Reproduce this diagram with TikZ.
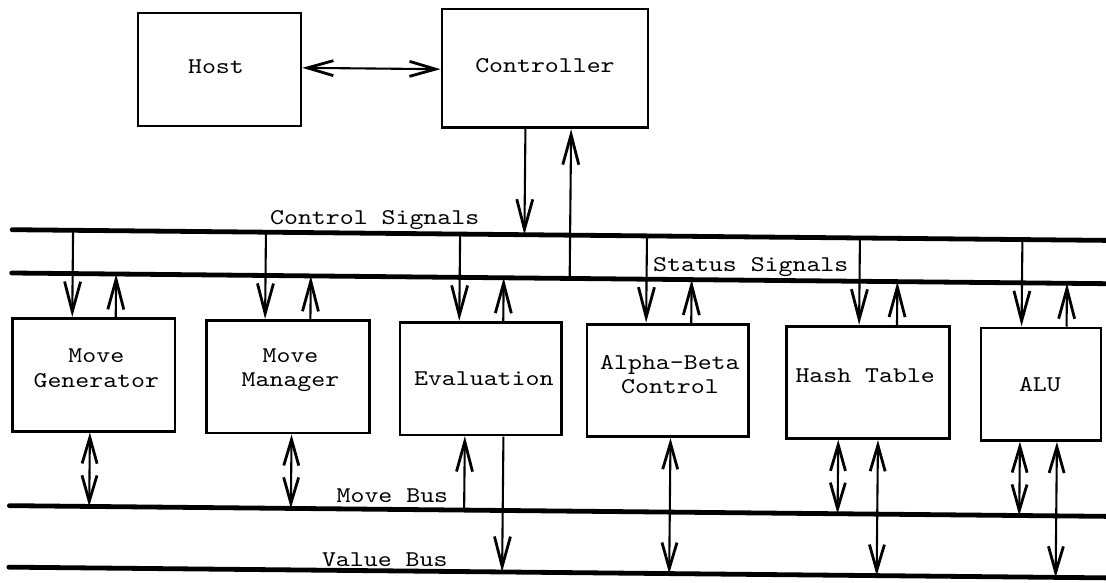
\documentclass[tikz,border=0pt]{standalone}
\usepackage{fontspec}
\newfontfamily\typewriter{lmmono10-regular.otf}[FakeStretch=1.18]
\usetikzlibrary{arrows.meta}
\begin{document}
\begin{tikzpicture}[x=1pt,y=-1pt,
  unit/.style={draw, line width=2.8pt, minimum width=162.5pt, minimum height=112.5pt, inner sep=0pt},
  txt/.style={inner sep=0pt, align=center, font=\typewriter\fontsize{22.5}{24.5}\selectfont},
  buslabel/.style={inner sep=0pt, anchor=base west, font=\typewriter\fontsize{22.5}{24.5}\selectfont},
  bus/.style={line width=4.8pt, line cap=round},
  onehead/.style={line width=2.1pt, -{Straight Barb[length=30pt,width=16pt,line width=2.8pt]}},
  twohead/.style={line width=2.1pt, {Straight Barb[length=26pt,width=15pt,line width=2.8pt]}-{Straight Barb[length=26pt,width=15pt,line width=2.8pt]}}]
\useasboundingbox (0,0) rectangle (1106,582);
\begin{scope}[rotate around={-0.56:(553,291)}]
  % buses
  \coordinate (cs-w) at (11.5,235);   \coordinate (cs-e) at (1115,235);
  \coordinate (ss-w) at (11.5,278.3); \coordinate (ss-e) at (1115,278.3);
  \coordinate (mb-w) at (11.5,511);   \coordinate (mb-e) at (1115,511);
  \coordinate (vb-w) at (11.5,572.5); \coordinate (vb-e) at (1115,572.5);
  \draw[bus] (cs-w) -- (cs-e);
  \draw[bus] (ss-w) -- (ss-e);
  \draw[bus] (mb-w) -- (mb-e);
  \draw[bus] (vb-w) -- (vb-e);
  \node[buslabel] (cs-l) at (269.3,226.8) {Control Signals};
  \node[buslabel] (ss-l) at (652.8,270.2) {Status Signals};
  \node[buslabel] (mb-l) at (338.5,505.0) {Move Bus};
  \node[buslabel] (vb-l) at (324.5,569.0) {Value Bus};

  % host and controller
  \node[unit, minimum width=163pt, minimum height=113pt] (host) at (217.3,72.8) {};
  \node[unit, minimum width=206pt, minimum height=118.5pt] (ctrl) at (542.8,68.4) {};
  \node[txt] (host-t) at ([xshift=-3.5pt,yshift=2.5pt]host.center) {Host};
  \node[txt] (ctrl-t) at ([yshift=3pt]ctrl.center) {Controller};

  % processing units
  \node[unit] (mg) at (94.6,379.4) {};
  \node[unit, minimum width=163pt] (mm) at (288.8,379.4) {};
  \node[unit, minimum width=161.7pt] (ev) at (481.7,379.4) {};
  \node[unit, minimum width=161.7pt] (ab) at (668.8,379.4) {};
  \node[unit, minimum width=163pt] (ht) at (869.1,379.4) {};
  \node[unit, minimum width=120pt] (alu) at (1041.9,379.4) {};
  \node[txt] (mg-t) at ([xshift=2.5pt,yshift=6.5pt]mg.center) {Move\\Generator};
  \node[txt] (mm-t) at ([xshift=2.5pt,yshift=6.5pt]mm.center) {Move\\Manager};
  \node[txt] (ev-t) at ([xshift=3pt]ev.center) {Evaluation};
  \node[txt] (ab-t) at ([xshift=2pt,yshift=6pt]ab.center) {Alpha-Beta\\Control};
  \node[txt] (ht-t) at ([xshift=-3pt,yshift=7pt]ht.center) {Hash Table};
  \node[txt] (alu-t) at ([xshift=-1pt]alu.center) {ALU};

  % host <-> controller
  \coordinate (hc) at ([yshift=1.7pt]host.east);
  \draw[twohead] (hc) -- (hc -| ctrl.west);

  % controller to control signals, status signals to controller
  \coordinate (cd) at (523.9,235);
  \coordinate (cu) at (569.6,278.3);
  \draw[onehead] (cd |- ctrl.south) -- (cd);
  \draw[onehead] (cu) -- (cu |- ctrl.south);

  % control lines down into each unit, status lines up from each unit
  \foreach \u/\d/\p in {mg/72.5/116, mm/265.4/310.7, ev/459.6/503.6,
                        ab/646.5/691.6, ht/859.5/897.4, alu/1022/1067} {
    \coordinate (\u-d) at (\d,235);
    \coordinate (\u-p) at (\p,278.3);
    \draw[onehead] (\u-d) -- (\u-d |- \u.north);
    \draw[onehead] (\u-p |- \u.north) -- (\u-p);
  }

  % move bus and value bus connections
  \coordinate (mg-m) at (91.3,511);
  \coordinate (mm-m) at (293,511);
  \coordinate (ev-m) at (466.3,511);
  \coordinate (ev-v) at (504.9,572.5);
  \coordinate (ab-v) at (672,572.5);
  \coordinate (ht-m) at (839.8,511);
  \coordinate (ht-v) at (879.5,572.5);
  \coordinate (alu-m) at (1021.5,511);
  \coordinate (alu-v) at (1058.5,572.5);
  \draw[twohead] (mg-m |- mg.south) -- (mg-m);
  \draw[twohead] (mm-m |- mm.south) -- (mm-m);
  \draw[onehead] (ev-m) -- (ev-m |- ev.south);
  \draw[onehead] (ev-v |- ev.south) -- (ev-v);
  \draw[twohead] (ab-v |- ab.south) -- (ab-v);
  \draw[twohead] (ht-m |- ht.south) -- (ht-m);
  \draw[twohead] (ht-v |- ht.south) -- (ht-v);
  \draw[twohead] (alu-m |- alu.south) -- (alu-m);
  \draw[twohead] (alu-v |- alu.south) -- (alu-v);
\end{scope}
\end{tikzpicture}
\end{document}
